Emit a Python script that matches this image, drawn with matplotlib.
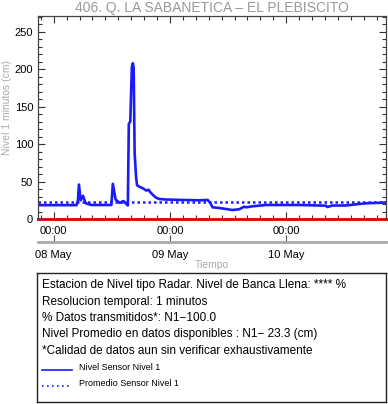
import numpy as np
import pandas as pd
import matplotlib
matplotlib.use("Agg")
import matplotlib.pyplot as plt
import matplotlib.dates as mdates
from matplotlib.ticker import MultipleLocator, FixedLocator

plt.rcParams['font.family'] = ['Liberation Sans', 'DejaVu Sans']

# nivel (cm) vs hours from 08 May 00:00
hours = [-3.25, 4.7, 5.0, 5.2, 5.56, 6.04, 6.59, 7.76, 11.9, 12.2, 12.77, 13.6,
         14.4, 15.3, 15.5, 15.8, 16.13, 16.34, 16.5, 16.7, 17.0, 17.2, 17.7,
         18.4, 19.1, 19.6, 19.9, 20.5, 21.1, 21.8, 23.2, 26.6, 30.1, 31.8,
         32.3, 32.8, 34.2, 36.9, 38.3, 39.3, 39.7, 41.1, 43.8, 50.7, 56.2,
         56.5, 57.5, 60.3, 62.4, 64.4, 68.5]
nivel = [18.5, 18.5, 25, 46, 25, 31, 21, 18.7, 18.7, 47, 26, 21.5,
         24, 18, 127, 130, 203, 208, 202, 88, 56, 45, 43,
         41, 38, 39, 36, 32, 28.5, 26.7, 26, 25.4, 25, 25.4,
         21.5, 15.6, 14.7, 12, 13, 16.5, 15.6, 17, 18.7, 18.7, 17.8,
         16, 18, 18, 19.6, 20.9, 22]
promedio = 23.3
t0 = pd.Timestamp("2024-05-08 00:00")
t_start = t0 + pd.Timedelta(hours=-3.25)
t_end = t0 + pd.Timedelta(hours=68.6)
days = [t0 + pd.Timedelta(days=d) for d in range(3)]

times = [t0 + pd.Timedelta(hours=h) for h in hours]

fig = plt.figure(figsize=(3.88, 4.04), dpi=100)
ax = fig.add_axes([38/388, 1-219/404, (386-38)/388, (219-16)/404])

ax.plot(times, nivel, color='#1a1aff', lw=1.9)
ax.plot([t_start, t_end], [promedio, promedio], color='#1a1aff', lw=1.8,
        linestyle=(0, (1, 1.2)))
ax.plot([t_start, t_end], [0, 0], color='#ee1111', lw=2.2, clip_on=False)

ax.set_xlim(t_start, t_end)
ax.set_ylim(0, 271)
ax.yaxis.set_major_locator(MultipleLocator(50))
ax.yaxis.set_minor_locator(MultipleLocator(10))
ax.xaxis.set_major_locator(FixedLocator(mdates.date2num(days)))
ax.xaxis.set_major_formatter(mdates.DateFormatter('%H:%M'))
minor = []
for d in range(-1, 3):
    for k in range(1, 9):
        minor.append(t0 + pd.Timedelta(days=d) + pd.Timedelta(minutes=160*k))
ax.xaxis.set_minor_locator(FixedLocator(mdates.date2num(minor)))

ax.tick_params(which='both', direction='in', top=True, right=True,
               labelsize=8, color='#333333', width=0.8)
ax.tick_params(which='major', length=5)
ax.tick_params(which='minor', length=3)
ax.tick_params(axis='x', pad=5)
for s in ax.spines.values():
    s.set_color('#444444')
    s.set_linewidth(0.9)

ax.set_title('406. Q. LA SABANETICA \u2013 EL PLEBISCITO', color='#999999',
             fontsize=10, pad=3)
ax.set_ylabel('Nivel 1 minutos (cm)', color='#aaaaaa', fontsize=7.5)
ax.yaxis.set_label_coords(-0.074, 0.55)

sec = ax.secondary_xaxis(-0.112)
sec.set_xticks(mdates.date2num(days))
sec.xaxis.set_major_formatter(mdates.DateFormatter('%d May'))
sec.xaxis.set_minor_locator(FixedLocator([]))
sec.spines['bottom'].set_color('#aaaaaa')
sec.spines['bottom'].set_linewidth(2)
sec.tick_params(direction='in', length=5, color='#555555', labelsize=8, pad=6)
sec.set_xlabel('Tiempo', color='#aaaaaa', fontsize=7.5, labelpad=0)

# info box
bx = fig.add_axes([37/388, 1-402/404, (386-37)/388, (402-273)/404])
bx.set_xticks([])
bx.set_yticks([])
bx.set_xlim(0, 349)
bx.set_ylim(129, 0)
for s in bx.spines.values():
    s.set_color('#222222')
    s.set_linewidth(1)
lines = ['Estacion de Nivel tipo Radar. Nivel de Banca Llena: **** %',
         'Resolucion temporal: 1 minutos',
         '% Datos transmitidos*: N1\u2212100.0',
         'Nivel Promedio en datos disponibles : N1\u2212 23.3 (cm)',
         '*Calidad de datos aun sin verificar exhaustivamente']
for i, txt in enumerate(lines):
    bx.text(5, 12 + i*16.5, txt, fontsize=8.5, va='center', ha='left')
bx.plot([5, 35], [97, 97], color='#1a1aff', lw=1.2)
bx.text(42, 94, 'Nivel Sensor Nivel 1', fontsize=6.5, va='center')
bx.plot([5, 35], [113, 113], color='#1a1aff', lw=1.2, linestyle=(0, (1, 2)))
bx.text(42, 110, 'Promedio Sensor Nivel 1', fontsize=6.5, va='center')

fig.savefig('out.png', dpi=100)
